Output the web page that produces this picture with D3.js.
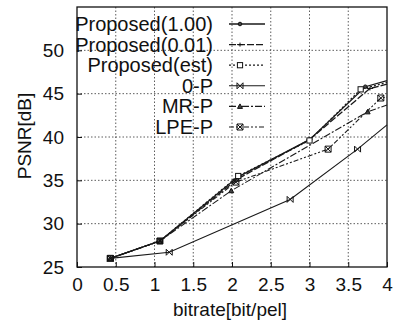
<!DOCTYPE html>
<html>
<head>
<meta charset="utf-8">
<style>
  * { margin: 0; padding: 0; }
  body { background: #fff; }
  svg text { font-family: "Liberation Sans", Arial, sans-serif; fill: #111; }
</style>
</head>
<body>
<div id="chart"></div>
<script src="https://cdn.jsdelivr.net/npm/d3@7"></script>
<script>
// data
var names = ["Proposed(1.00)", "Proposed(0.01)", "Proposed(est)", "0-P", "MR-P", "LPE-P"];
var p100X = [0.43, 1.07, 2.08, 3.0, 3.72, 4.0];
var p100Y = [26.0, 28.0, 35.4, 39.7, 45.8, 46.5];
var p001X = [0.43, 1.07, 2.08, 3.0, 3.78, 4.0];
var p001Y = [26.0, 28.0, 35.2, 39.7, 45.6, 46.1];
var estX  = [0.43, 1.07, 2.08, 3.0, 3.66, 4.0];
var estY  = [26.0, 28.0, 35.5, 39.6, 45.5, 46.3];
var zeroX = [0.43, 1.19, 2.75, 3.62, 4.0];
var zeroY = [26.0, 26.7, 32.8, 38.6, 41.4];
var mrX   = [0.43, 1.07, 1.99, 3.75, 4.0];
var mrY   = [26.0, 28.0, 33.8, 42.9, 43.7];
var lpeX  = [0.43, 1.07, 2.05, 3.24, 3.92, 4.0];
var lpeY  = [26.0, 28.0, 34.8, 38.6, 44.5, 44.6];
var xTicks = [0, 0.5, 1, 1.5, 2, 2.5, 3, 3.5, 4];
var yTicks = [25, 30, 35, 40, 45, 50];

var W = 394, H = 321;
var m = {left: 77, right: 7, top: 7, bottom: 54};
var iw = W - m.left - m.right, ih = H - m.top - m.bottom;

var svg = d3.select('#chart').append('svg').attr('width', W).attr('height', H);
var g = svg.append('g').attr('transform', 'translate(' + m.left + ',' + m.top + ')');

var x = d3.scaleLinear().domain([0, 4]).range([0, iw]);
var y = d3.scaleLinear().domain([25, 55]).range([ih, 0]);

// grid
g.selectAll('.gx').data(xTicks.slice(1, -1)).enter().append('line')
  .attr('x1', d => x(d)).attr('x2', d => x(d)).attr('y1', 0).attr('y2', ih)
  .attr('stroke', '#333').attr('stroke-width', 0.8).attr('stroke-dasharray', '1.5,2');
g.selectAll('.gy').data(yTicks.slice(1)).enter().append('line')
  .attr('y1', d => y(d)).attr('y2', d => y(d)).attr('x1', 0).attr('x2', iw)
  .attr('stroke', '#333').attr('stroke-width', 0.8).attr('stroke-dasharray', '1.5,2');

// axes
var xa = g.append('g').attr('transform', 'translate(0,' + ih + ')')
  .call(d3.axisBottom(x).tickValues(xTicks).tickFormat(d => String(d)).tickSize(-5).tickPadding(11));
var ya = g.append('g')
  .call(d3.axisLeft(y).tickValues(yTicks).tickFormat(d => String(d)).tickSize(-5).tickPadding(13));
[xa, ya].forEach(function (a) {
  a.select('.domain').remove();
  a.selectAll('line').attr('stroke', '#111');
  a.selectAll('text').style('font-size', '19px').attr('fill', '#111');
});
g.append('rect').attr('width', iw).attr('height', ih)
  .attr('fill', 'none').attr('stroke', '#111').attr('stroke-width', 1.3);

svg.append('text').attr('x', m.left + iw / 2 - 2).attr('y', 316)
  .attr('text-anchor', 'middle').style('font-size', '19px').text('bitrate[bit/pel]');
svg.append('text').attr('transform', 'translate(31,136) rotate(-90)')
  .attr('text-anchor', 'middle').style('font-size', '19px').text('PSNR[dB]');

// series
var dashes = [null, '7,2', '2,2', null, '7,2,2,2', '5,2,2,2,2,2'];
var widths = [1.3, 1.3, 1.2, 1.1, 1.1, 1.1];
var shapes = ['circle', 'plus', 'square', 'cross', 'triangle', 'boxx'];
var xsAll = [p100X, p001X, estX, zeroX, mrX, lpeX];
var ysAll = [p100Y, p001Y, estY, zeroY, mrY, lpeY];

function marker(sel, shape, cx, cy) {
  var s = 2.6;
  var gg = sel.append('g').attr('transform', 'translate(' + cx + ',' + cy + ')')
    .attr('stroke', '#111').attr('stroke-width', 1).attr('fill', 'none');
  if (shape == 'circle') gg.append('circle').attr('r', 1.8).attr('fill', '#444');
  if (shape == 'plus') gg.append('path').attr('d', 'M-3,0H3M0,-2V2');
  if (shape == 'square') gg.append('rect').attr('x', -s).attr('y', -s).attr('width', 2 * s).attr('height', 2 * s).attr('fill', '#fff');
  if (shape == 'cross') gg.append('path').attr('d', 'M-3,-3L3,3M-3,3L3,-3M-3,-3V3M3,-3V3');
  if (shape == 'triangle') gg.append('path').attr('d', 'M-2.5,2L0,-2.5L2.5,2Z').attr('fill', '#444');
  if (shape == 'boxx') gg.append('path').attr('d', 'M-3,-3H3V3H-3ZM-3,-3L3,3M-3,3L3,-3');
}

var line = d3.line().x(d => x(d[0])).y(d => y(d[1]));
names.forEach(function (n, i) {
  var pts = xsAll[i].map((v, j) => [v, ysAll[i][j]]);
  g.append('path').datum(pts).attr('d', line).attr('fill', 'none')
    .attr('stroke', '#1a1a1a').attr('stroke-width', widths[i])
    .attr('stroke-dasharray', dashes[i]);
  pts.forEach(function (p, j) {
    if (xsAll[i][j] < 4) marker(g, shapes[i], x(p[0]), y(p[1]));
  });
});

// legend
var lg = svg.append('g');
names.forEach(function (n, i) {
  var ly = 24 + i * 20.6;
  lg.append('text').attr('x', 213).attr('y', ly + 7).attr('text-anchor', 'end')
    .style('font-size', '20px').text(n);
  lg.append('line').attr('x1', 229).attr('x2', 265).attr('y1', ly).attr('y2', ly)
    .attr('stroke', '#1a1a1a').attr('stroke-width', widths[i]).attr('stroke-dasharray', dashes[i]);
  marker(lg, shapes[i], 240, ly);
});
</script>
</body>
</html>
